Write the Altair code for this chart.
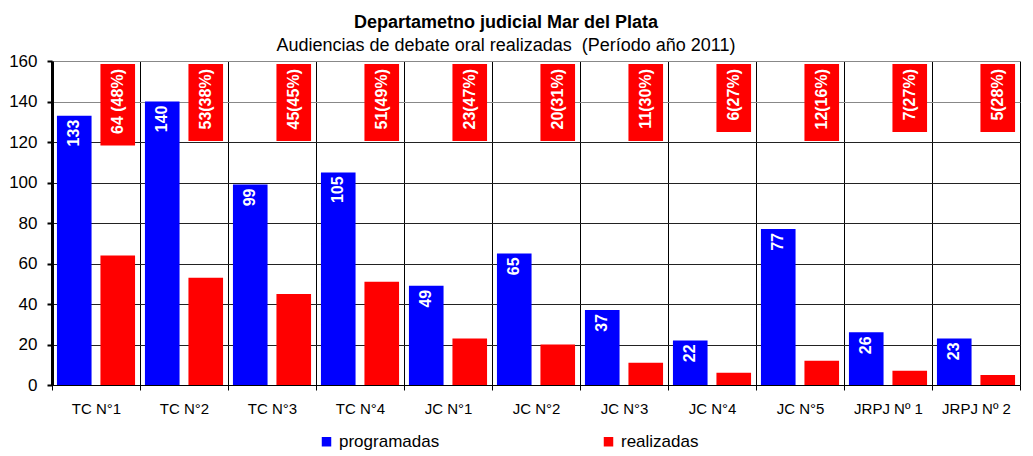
import altair as alt
import pandas as pd

categorias = ["TC N°1", "TC N°2", "TC N°3", "TC N°4", "JC N°1", "JC N°2",
              "JC N°3", "JC N°4", "JC N°5", "JRPJ Nº 1", "JRPJ Nº 2"]
programadas = [133, 140, 99, 105, 49, 65, 37, 22, 77, 26, 23]
realizadas = [64, 53, 45, 51, 23, 20, 11, 6, 12, 7, 5]
etiquetas = ["64 (48%)", "53(38%)", "45(45%)", "51(49%)", "23(47%)", "20(31%)",
             "11(30%)", "6(27%)", "12(16%)", "7(27%)", "5(28%)"]
series = ["programadas", "realizadas"]
colores = ["#0000FF", "#FF0000"]

rows = []
for c, p, r in zip(categorias, programadas, realizadas):
    rows.append({"cat": c, "serie": "programadas", "valor": p})
    rows.append({"cat": c, "serie": "realizadas", "valor": r})
df = pd.DataFrame(rows)
lab = pd.DataFrame({"cat": categorias, "serie": "realizadas", "etiqueta": etiquetas})

FONT = "Liberation Sans"
PX_PER_UNIT = 324 / 160

x = alt.X("cat:N", sort=categorias,
          scale=alt.Scale(paddingInner=0, paddingOuter=0),
          axis=alt.Axis(title=None, labelAngle=0, tickBand="extent", grid=True,
                        gridColor="black", gridOpacity=1, domainColor="black",
                        tickColor="black", tickSize=5, labelFontSize=15,
                        labelPadding=11, labelFont=FONT, labelColor="black"))
xo = alt.XOffset("serie:N", sort=series,
                 scale=alt.Scale(domain=series, paddingInner=0.2045, paddingOuter=0.1136))
y_axis = alt.Axis(title=None, values=list(range(0, 161, 20)), grid=True,
                  gridColor={"condition": {"test": "datum.value >= 140", "value": "#888888"},
                             "value": "#222222"},
                  gridOpacity=1, domainColor="black", domainWidth=3,
                  tickColor="black", tickSize=5, tickWidth=2, labelFontSize=17,
                  labelFont=FONT, labelColor="black", labelPadding=10)
yscale = alt.Scale(domain=[0, 160], nice=False)

bars = alt.Chart(df).mark_bar().encode(
    x=x, xOffset=xo,
    y=alt.Y("valor:Q", scale=yscale, axis=y_axis),
    color=alt.Color("serie:N", scale=alt.Scale(domain=series, range=colores),
                    legend=alt.Legend(title=None, orient="none", legendX=266, legendY=372,
                                      direction="horizontal", symbolType="square",
                                      symbolSize=90, symbolStrokeWidth=0,
                                      labelFontSize=17, labelFont=FONT, labelColor="black",
                                      columnPadding=160, padding=0, labelOffset=4)),
)

blue_text = alt.Chart(df).transform_filter("datum.serie == 'programadas'").mark_text(
    angle=270, align="right", baseline="middle", dx=-4, color="white",
    fontWeight="bold", fontSize=16, font=FONT
).encode(x=x, xOffset=xo, y=alt.Y("valor:Q", scale=yscale), text="valor:Q")

red_box = alt.Chart(lab).transform_calculate(
    tope="158.5",
    base=("158.5 - (9 * length(datum.etiqueta) - 4.5 * (length(datum.etiqueta) - "
          f"length(replace(datum.etiqueta, ' ', ''))) + 14) / {PX_PER_UNIT}")
).mark_bar(color="#FF0000").encode(
    x=x, xOffset=xo, y=alt.Y("tope:Q", scale=yscale), y2="base:Q")

red_text = alt.Chart(lab).transform_calculate(tope="158.5").mark_text(
    angle=270, align="right", baseline="middle", dx=-5, color="white",
    fontWeight="bold", fontSize=16, font=FONT
).encode(x=x, xOffset=xo, y=alt.Y("tope:Q", scale=yscale), text="etiqueta:N")

chart = alt.layer(bars, blue_text, red_box, red_text).properties(
    width=968, height=324,
    padding={"left": 0, "top": 6, "right": 0, "bottom": 0},
    title=alt.TitleParams(
        text="Departametno judicial Mar del Plata",
        subtitle="Audiencias de debate oral realizadas\u00a0 (Período año 2011)",
        font=FONT, fontSize=18, fontWeight="bold", color="black",
        subtitleFont=FONT, subtitleFontSize=18, subtitleColor="black",
        anchor="middle", dx=-30, offset=-3, subtitlePadding=5),
).configure_view(stroke=None)

chart.save("out.html", embed_options={"renderer": "svg", "actions": False})
